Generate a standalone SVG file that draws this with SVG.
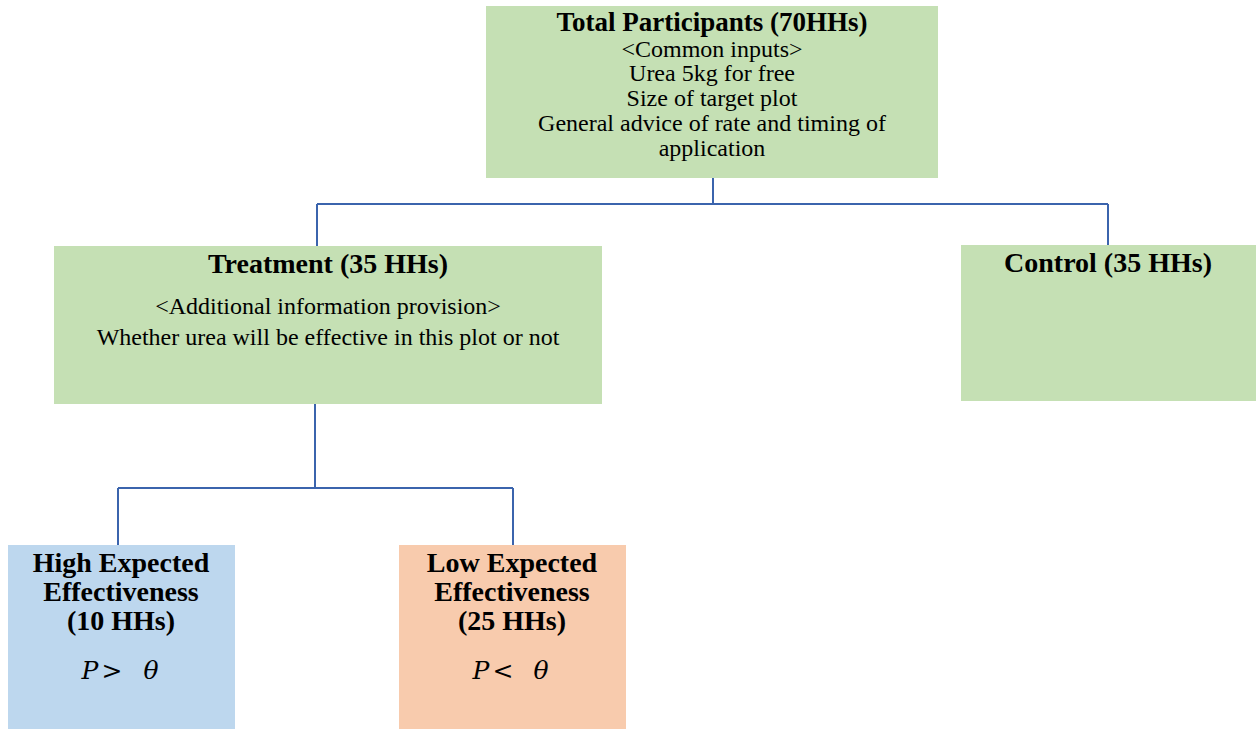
<svg xmlns="http://www.w3.org/2000/svg" width="1258" height="729" viewBox="0 0 1258 729">
<style>
.g{fill:#c5e0b4}
.b{fill:#bdd7ee}
.o{fill:#f8cbad}
.t{font-family:"Liberation Serif","Times New Roman",serif;font-weight:bold;font-size:28px;fill:#000;text-anchor:middle}
.r{font-family:"Liberation Serif","Times New Roman",serif;font-size:24px;fill:#000;text-anchor:middle}
.m{font-family:"DejaVu Serif","Liberation Serif",serif;font-style:italic;font-size:25px;fill:#000;text-anchor:middle}
.c{fill:none;stroke:#3b64ad;stroke-width:2}
</style>
<rect width="1258" height="729" fill="#fff"/>
<g id="connectors">
<path class="c" d="M713,178 V204 M317,204 H1108 M317,204 V246 M1108,204 V245"/>
<path class="c" d="M315,404 V488 M118,488 H513 M118,488 V545 M513,488 V545"/>
</g>
<g id="total">
<rect class="g" x="486" y="6" width="452" height="172"/>
<text class="t" x="712" y="31" style="font-size:27px">Total Participants (70HHs)</text>
<text class="r" x="712" y="57">&lt;Common inputs&gt;</text>
<text class="r" x="712" y="81">Urea 5kg for free</text>
<text class="r" x="712" y="106">Size of target plot</text>
<text class="r" x="712" y="131">General advice of rate and timing of</text>
<text class="r" x="712" y="156">application</text>
</g>
<g id="treatment">
<rect class="g" x="54" y="246" width="548" height="158"/>
<text class="t" x="328" y="273">Treatment (35 HHs)</text>
<text class="r" x="328" y="314">&lt;Additional information provision&gt;</text>
<text class="r" x="328" y="345">Whether urea will be effective in this plot or not</text>
</g>
<g id="control">
<rect class="g" x="961" y="245" width="295" height="156"/>
<text class="t" x="1108" y="272">Control (35 HHs)</text>
</g>
<g id="high">
<rect class="b" x="8" y="545" width="227" height="184"/>
<text class="t" x="121" y="572">High Expected</text>
<text class="t" x="121" y="601">Effectiveness</text>
<text class="t" x="121" y="630">(10 HHs)</text>
<text class="m" x="90" y="679">P</text>
<text class="m" x="112" y="679">&gt;</text>
<text class="m" x="151" y="679">θ</text>
</g>
<g id="low">
<rect class="o" x="399" y="545" width="227" height="184"/>
<text class="t" x="512" y="572">Low Expected</text>
<text class="t" x="512" y="601">Effectiveness</text>
<text class="t" x="512" y="630">(25 HHs)</text>
<text class="m" x="481" y="679">P</text>
<text class="m" x="503" y="679">&lt;</text>
<text class="m" x="541" y="679">θ</text>
</g>
</svg>
